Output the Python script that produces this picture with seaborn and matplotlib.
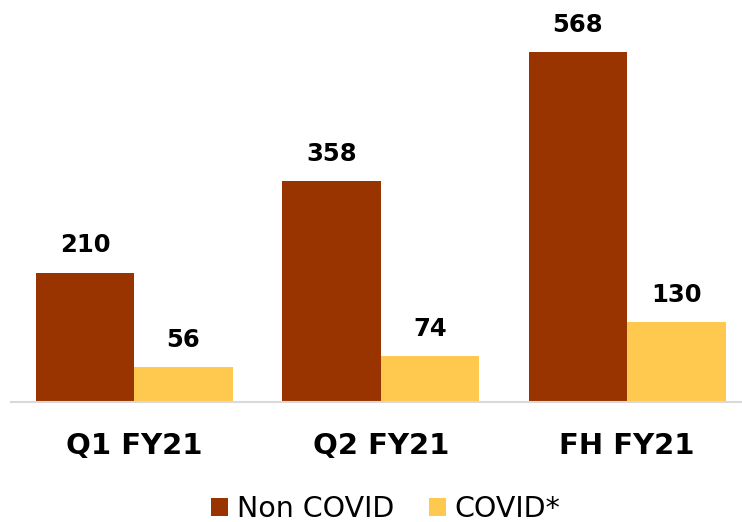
import matplotlib
matplotlib.use("Agg")
import matplotlib.pyplot as plt
import seaborn as sns
import pandas as pd
from matplotlib.patches import Patch

categories = ["Q1 FY21", "Q2 FY21", "FH FY21"]
non_covid = [210, 358, 568]
covid = [56, 74, 130]
series_names = ["Non COVID", "COVID*"]
colors = ["#993300", "#FFC94F"]

df = pd.DataFrame({
    "cat": categories * 2,
    "val": non_covid + covid,
    "series": [series_names[0]] * 3 + [series_names[1]] * 3,
})

sns.set_style("white")
plt.rcParams['font.family'] = ['DejaVu Sans']
plt.rcParams['text.color'] = 'black'
plt.rcParams['xtick.color'] = 'black'

fig = plt.figure(figsize=(7.42, 5.22), dpi=100)
ax = fig.add_axes([11/742, 120/522, 731/742, 402/522])
sns.barplot(data=df, x="cat", y="val", hue="series", palette=colors,
            order=categories, hue_order=series_names, width=0.8,
            saturation=1, ax=ax, legend=False, linewidth=0)

ax.set_xlim(-0.5, 2.466)
ax.set_ylim(0, 652)
for s in ["top", "right", "left"]:
    ax.spines[s].set_visible(False)
ax.spines["bottom"].set_color("#D9D9D9")
ax.spines["bottom"].set_linewidth(1.5)
ax.set_yticks([])
ax.set_xlabel("")
ax.set_ylabel("")
ax.tick_params(axis="x", length=0, pad=21.5)
for lab in ax.get_xticklabels():
    lab.set_fontsize(21)
    lab.set_fontweight("bold")
    lab.set_color("black")

for cont in ax.containers:
    for bar in cont:
        h = bar.get_height()
        ax.annotate(f"{h:.0f}", (bar.get_x() + bar.get_width() / 2, h),
                    xytext=(0, 19.5), textcoords="offset points",
                    ha="center", va="center", fontsize=17.5,
                    fontweight="bold", color="black")

handles = [Patch(facecolor=c, edgecolor="none") for c in colors]
leg = fig.legend(handles, series_names, loc="center",
                 bbox_to_anchor=(385.5/742, 13/522), ncol=2, frameon=False,
                 fontsize=20.5, handlelength=0.62, handleheight=0.62,
                 handletextpad=0.29, columnspacing=1.22)
for t in leg.get_texts():
    t.set_color("black")

fig.savefig("out.png", dpi=100)
